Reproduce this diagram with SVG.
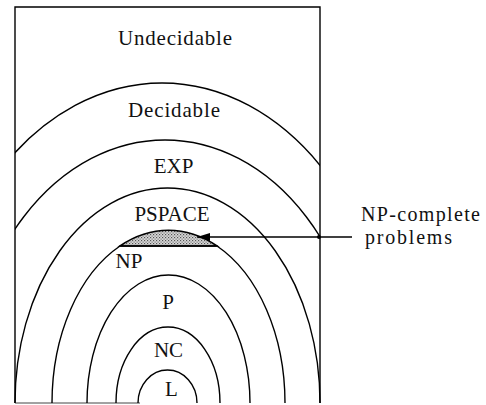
<svg xmlns="http://www.w3.org/2000/svg" width="486" height="405" viewBox="0 0 486 405">
<style>
.c{fill:none;stroke:#000;stroke-width:1.4}
.t{font-family:"Liberation Serif","Times New Roman",serif;font-size:21px;fill:#111;text-anchor:middle}
.ts{font-family:"Liberation Serif","Times New Roman",serif;font-size:20px;fill:#111}
</style>
<defs>
<clipPath id="box"><rect x="15" y="7" width="305" height="396"/></clipPath>
<marker id="ah" markerWidth="14" markerHeight="10" refX="13" refY="5" orient="auto" markerUnits="userSpaceOnUse">
<path d="M0,1 L13,5 L0,9 Z" fill="#000"/>
</marker>
<pattern id="dots" width="3" height="3" patternUnits="userSpaceOnUse">
<rect width="3" height="3" fill="#d8d8d8"/>
<rect x="0" y="0" width="1.2" height="1.2" fill="#555"/>
<rect x="1.5" y="1.5" width="1.2" height="1.2" fill="#777"/>
</pattern>
</defs>
<rect width="486" height="405" fill="#fff"/>
<g id="undecidable">
<path class="c" d="M15,403 L15,7 L320,7 L320,403" stroke-width="1.6"/>
<line x1="15" y1="403" x2="140" y2="403" stroke="#444" stroke-width="1"/>
<text class="t" x="175" y="45" textLength="114" lengthAdjust="spacing">Undecidable</text>
</g>
<g id="decidable">
<ellipse class="c" cx="162" cy="403" rx="236" ry="320" clip-path="url(#box)"/>
<text class="t" x="174" y="117" textLength="92" lengthAdjust="spacing">Decidable</text>
</g>
<g id="exp">
<ellipse class="c" cx="165" cy="403" rx="200" ry="263" clip-path="url(#box)"/>
<text class="t" x="173.5" y="173">EXP</text>
</g>
<g id="pspace">
<path class="c" d="M15,403 A152.5 215 0 0 1 320,403"/>
<text class="t" x="172" y="221">PSPACE</text>
</g>
<g id="np-complete">
<path d="M120,246 A116.5 172.7 0 0 1 217,246 Z" fill="url(#dots)" stroke="#000" stroke-width="1.6"/>
</g>
<g id="np">
<path class="c" d="M52,403 A116.5 172.7 0 0 1 120,246 L217,246 A116.5 172.7 0 0 1 285,403"/>
<text class="t" x="129" y="268">NP</text>
</g>
<g id="p">
<path class="c" d="M87,403 A81.5 128 0 0 1 250,403"/>
<text class="t" x="168" y="309">P</text>
</g>
<g id="nc">
<path class="c" d="M116,403 A52 76 0 0 1 220,403"/>
<text class="t" x="168.5" y="357">NC</text>
</g>
<g id="l">
<path class="c" d="M138,403 A29.5 33 0 0 1 197,403"/>
<text class="t" x="171.5" y="396">L</text>
</g>
<g id="label-npc">
<text class="ts" x="361" y="221" textLength="119" lengthAdjust="spacing">NP-complete</text>
<text class="ts" x="365" y="244" textLength="87" lengthAdjust="spacing">problems</text>
</g>
<g id="connectors">
<line x1="352" y1="237" x2="197" y2="237" stroke="#000" stroke-width="1.4" marker-end="url(#ah)"/>
<circle cx="319" cy="237" r="2" fill="#000"/>
</g>
</svg>
